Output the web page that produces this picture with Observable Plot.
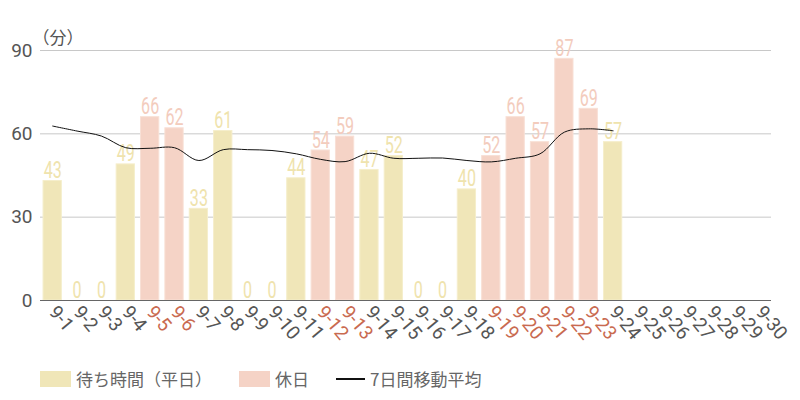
<!DOCTYPE html>
<html><head><meta charset="utf-8">
<script src="https://cdn.jsdelivr.net/npm/d3@7"></script>
<script src="https://cdn.jsdelivr.net/npm/@observablehq/plot@0.6"></script>
<style>
body{margin:0;background:#fff;font-family:"Noto Sans CJK JP",sans-serif;}
#wrap{position:relative;width:800px;height:400px;}
#legend{position:absolute;left:40px;top:366px;display:flex;align-items:center;font-size:17px;color:#666;}
.sw{display:inline-block;width:31px;height:16px;margin-right:5px;}
.ln{display:inline-block;width:29px;height:0;border-top:2px solid #111;margin-right:5px;}
.it{display:flex;align-items:center;margin-right:27px;}
</style></head><body>
<div id="wrap"><div id="chart"></div>
<div id="legend">
<span class="it"><span class="sw" style="background:#f0e6b8"></span>待ち時間（平日）</span>
<span class="it"><span class="sw" style="background:#f5d3c6"></span>休日</span>
<span class="it"><span class="ln"></span>7日間移動平均</span>
</div></div>
<script>
const days = ["9-1","9-2","9-3","9-4","9-5","9-6","9-7","9-8","9-9","9-10","9-11","9-12","9-13","9-14","9-15","9-16","9-17","9-18","9-19","9-20","9-21","9-22","9-23","9-24","9-25","9-26","9-27","9-28","9-29","9-30"];
const waits = [43,0,0,49,66,62,33,61,0,0,44,54,59,47,52,0,0,40,52,66,57,87,69,57];
const holidays = ["9-5","9-6","9-12","9-13","9-19","9-20","9-21","9-22","9-23"];
const movingAvg = [62.8,61,59.2,55,54.8,55,50.4,54.3,54.3,54,52.8,50.8,50,53,51.2,51.2,51.3,50.4,49.9,51.2,52.8,60.6,61.8,61.1];
const yTicks = [0,30,60,90];

const YELLOW = "#f0e6b8", PINK = "#f5d3c6", RED = "#c96a50", GRAY = "#555";
const rows = waits.map((v,i)=>({day:days[i], value:v, hol:holidays.includes(days[i])}));
const ma = movingAvg.map((v,i)=>({day:days[i], value:v}));

const chart = Plot.plot({
  width:800, height:360,
  marginLeft:40, marginRight:29, marginTop:50, marginBottom:60,
  style:{fontFamily:"Roboto, sans-serif", color:GRAY, background:"#fff"},
  x:{domain:days, paddingInner:0.25, paddingOuter:0.125, round:false, label:null},
  y:{domain:[0,90], label:null},
  marks:[
    Plot.gridY(yTicks.filter(d=>d>0), {stroke:"#c8c8c8", strokeOpacity:1}),
    Plot.barY(rows, {x:"day", y:"value", fill:d=>d.hol?PINK:YELLOW, stroke:d=>d.hol?"#f8e0d6":"#f5eecb", strokeWidth:1}),
    Plot.text(rows, {x:"day", y:"value", text:d=>String(d.value), fill:d=>d.hol?"#f3ccbd":"#efe3ad", lineAnchor:"bottom", dy:-3, fontSize:23, fontWeight:400, fontFamily:"Roboto, sans-serif", className:"vlabel"}),
    Plot.lineY(ma, {x:"day", y:"value", stroke:"#111", strokeWidth:1, curve:"catmull-rom"}),
    Plot.ruleY([0], {stroke:"#666", strokeWidth:1.2}),
    Plot.axisY({ticks:yTicks, tickSize:0, tickPadding:8, fontSize:19, label:null, fill:GRAY}),
    Plot.axisX({tickSize:0, tickRotate:50, tickPadding:8, fontSize:19, label:null, fill:GRAY}),
    Plot.text(["（分）"], {frameAnchor:"top-left", dx:-8, dy:-19, textAnchor:"start", fontSize:17, fill:GRAY, fontFamily:"'Noto Sans CJK JP',sans-serif"})
  ]
});
document.getElementById("chart").appendChild(chart);
const svg = d3.select(chart);
svg.selectAll("g[aria-label='x-axis tick label']").attr("fill", null).attr("font-size", 19);
svg.selectAll("g[aria-label='x-axis tick label'] text").each(function(){
  this.setAttribute("font-size", 19);
  if (holidays.includes(this.textContent)) this.setAttribute("fill", RED);
});
svg.selectAll("g[aria-label='y-axis tick label']").attr("font-size", 19);
svg.selectAll("g[aria-label='y-axis tick label'] text").attr("font-size", 19);
// condense the value labels horizontally around their anchor
svg.selectAll(".vlabel text").each(function(){
  const t = this.getAttribute("transform");
  const x = this.getAttribute("x");
  if (t) this.setAttribute("transform", t + " scale(0.7,1)");
  else if (x !== null) this.setAttribute("transform", `translate(${x},0) scale(0.7,1) translate(${-x},0)`);
});
</script>
</body></html>
